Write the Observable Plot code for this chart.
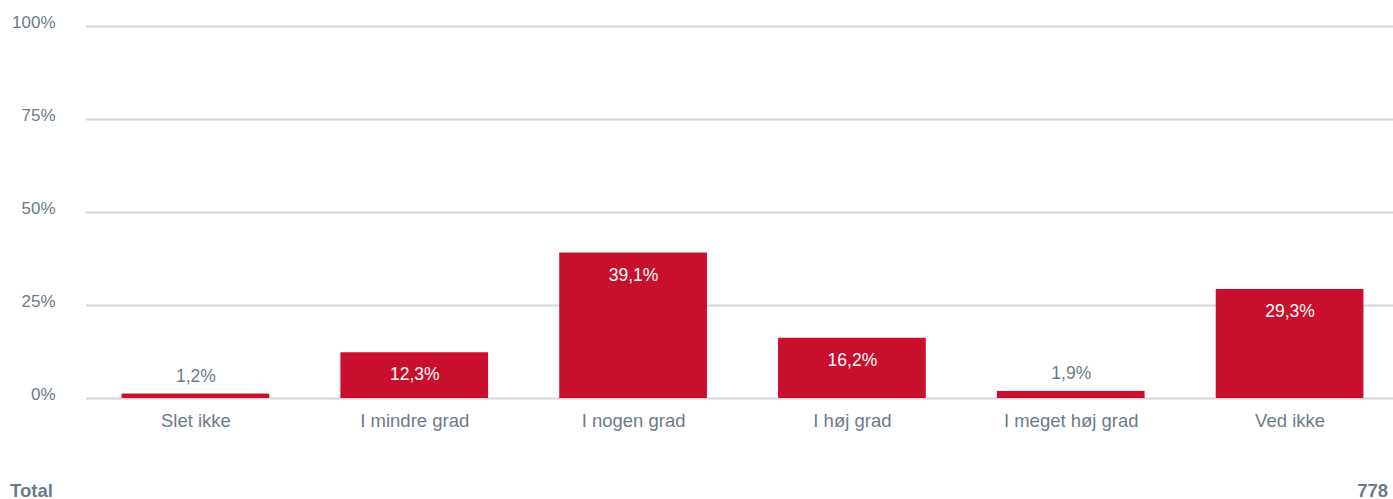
<!DOCTYPE html>
<html>
<head>
<meta charset="utf-8">
<script src="https://cdn.jsdelivr.net/npm/d3@7"></script>
<script src="https://cdn.jsdelivr.net/npm/@observablehq/plot@0.6"></script>
<style>
  html, body { margin: 0; padding: 0; background: #fff; }
  body { width: 1393px; height: 499px; overflow: hidden; font-family: "Liberation Sans", Arial, sans-serif; }
  #footer { position: absolute; left: 0; top: 480px; width: 1393px; height: 19px; color: #6b7b88; font-weight: bold; font-size: 18.5px; }
  #footer .l { position: absolute; left: 10px; top: 0px; }
  #footer .r { position: absolute; right: 5px; top: 0px; }
</style>
</head>
<body>
<div id="chart"></div>
<div id="footer"><span class="l">Total</span><span class="r">778</span></div>
<script>
const categories = ["Slet ikke", "I mindre grad", "I nogen grad", "I høj grad", "I meget høj grad", "Ved ikke"];
const values = [1.2, 12.3, 39.1, 16.2, 1.9, 29.3];
const yTicks = [0, 25, 50, 75, 100];
const totalLabel = "Total";
const totalN = 778;

const data = categories.map((c, i) => ({category: c, value: values[i]}));
const fmt = v => v.toFixed(1).replace(".", ",") + "%";
const labelColor = "#6b7b88";
const barColor = "#c8102e";

const chart = Plot.plot({
  width: 1393,
  height: 470,
  marginTop: 26,
  marginBottom: 72,
  marginLeft: 86,
  marginRight: 0,
  style: {fontFamily: "'Liberation Sans', Arial, sans-serif", fontSize: "17px", color: labelColor, background: "#fff"},
  x: {domain: categories, range: [86, 1399], paddingInner: 0.325, paddingOuter: 0.1625, round: false, label: null},
  y: {domain: [0, 100], label: null},
  marks: [
    Plot.ruleY(yTicks, {stroke: "#d6d6d6", strokeWidth: 2}),
    Plot.barY(data, {x: "category", y: "value", fill: barColor}),
    Plot.text(data.filter(d => d.value >= 5), {x: "category", y: "value", text: d => fmt(d.value), fill: "#fff", dy: 22, fontSize: 17.5}),
    Plot.text(data.filter(d => d.value < 5), {x: "category", y: "value", text: d => fmt(d.value), fill: labelColor, dy: -18, fontSize: 17.5}),
    Plot.axisY(yTicks, {tickSize: 0, tickPadding: 31, tickFormat: d => d + "%", fill: labelColor, fontSize: 17, dy: -4}),
    Plot.axisX({tickSize: 0, tickPadding: 15, fill: labelColor, fontSize: 18.5})
  ]
});
document.getElementById("chart").appendChild(chart);
document.querySelector("#footer .l").textContent = totalLabel;
document.querySelector("#footer .r").textContent = totalN;
</script>
</body>
</html>
